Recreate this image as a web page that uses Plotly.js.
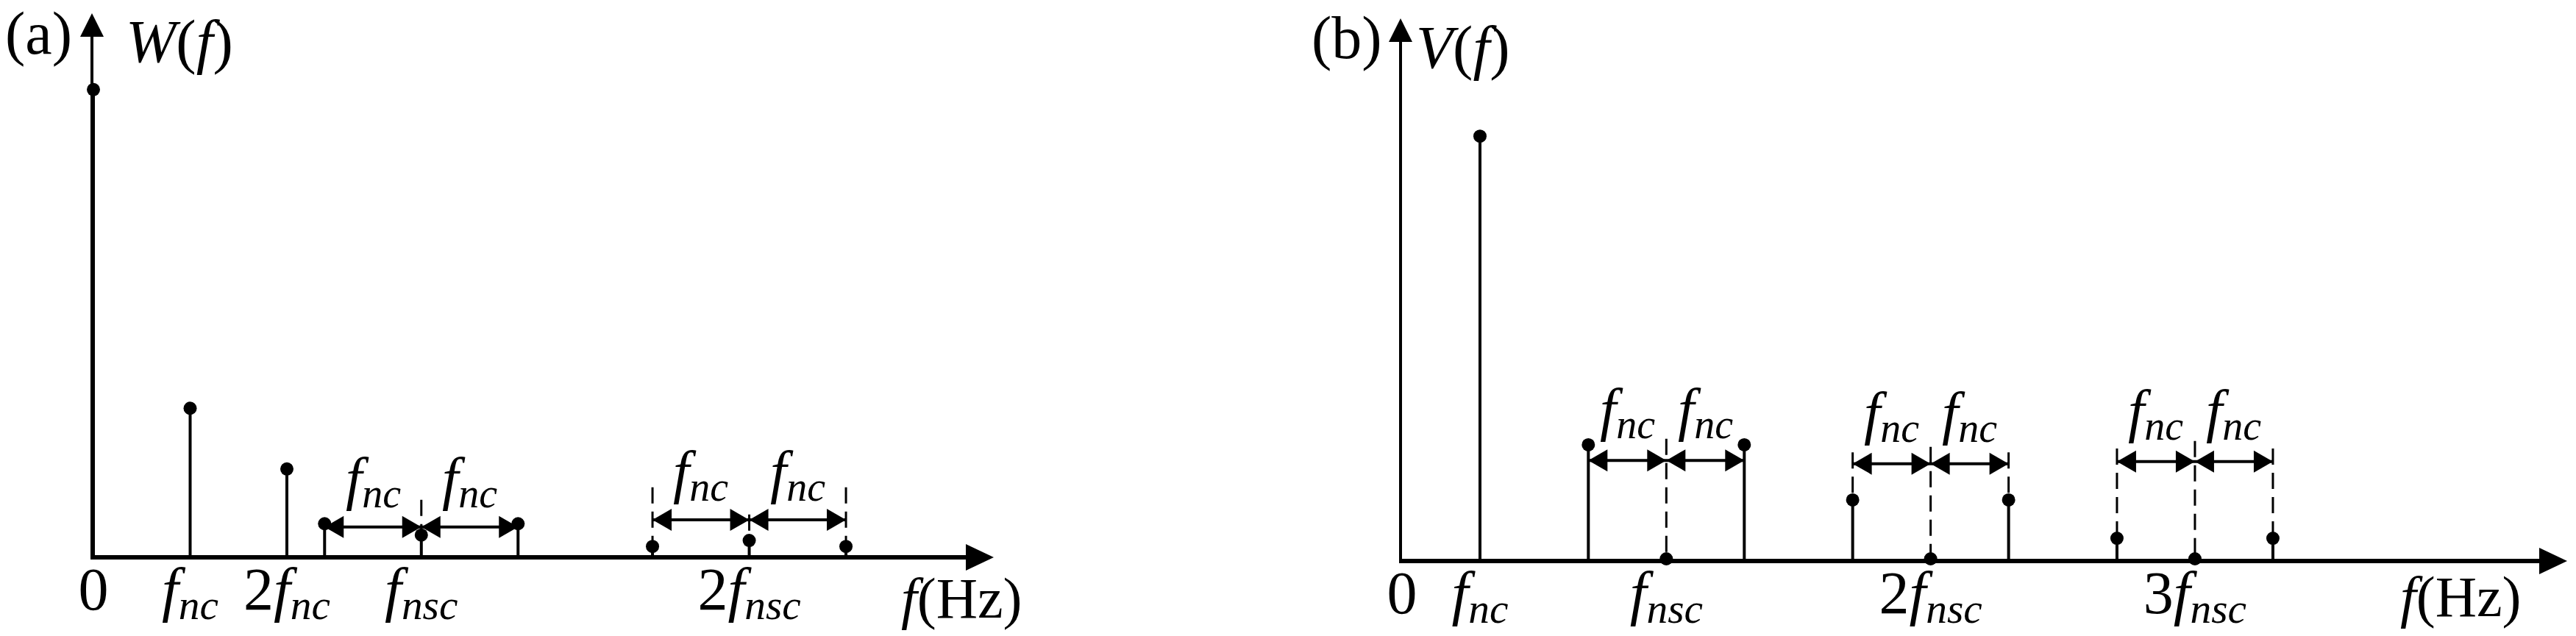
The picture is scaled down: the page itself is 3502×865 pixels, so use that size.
<!DOCTYPE html>
<html><head><meta charset="utf-8">
<script src="https://cdn.plot.ly/plotly-3.0.1.min.js"></script>
<style>html,body{margin:0;padding:0;background:#fff}#chart{width:3502px;height:865px}</style>
</head><body><div id="chart"></div>
<script>
// italic f with a lowered, smaller subscript (e.g. f_nc, f_nsc)
function fs(sub) { return '<i>f<span style="font-size:70%;baseline-shift:-0.22em">' + sub + '</span></i>'; }

// Frequencies are in units of f_nc ; f_nsc ≈ 3.39 f_nc
// ---------- Panel (a): W(f) ----------
const aFreq = [0, 1, 2, 2.39, 3.39, 4.39, 5.78, 6.78, 7.78];
const aAmp  = [85.9, 27.1, 15.9, 5.8, 3.7, 5.8, 1.6, 2.7, 1.6];
const aGroupCenter    = [3.39, 6.78];
const aArrowLevel     = [5.2, 6.5];
const aLabelLevel     = [13.6, 14.9];
const aGuideSideTop   = [null, 12.5];
const aGuideCenterTop = [10.2, 7.5];
const aTickVals = [0, 1, 2, 3.39, 6.78];
const aTickText = ['0', fs('nc'), '2' + fs('nc'), fs('nsc'), '2' + fs('nsc')];

// ---------- Panel (b): V(f) ----------
const bFreq = [1, 2.39, 3.39, 4.39, 5.78, 6.78, 7.78, 9.17, 10.17, 11.17];
const bAmp  = [78.2, 21.1, 0, 21.1, 10.9, 0, 10.9, 3.8, 0, 3.8];
const bGroupCenter    = [3.39, 6.78, 10.17];
const bArrowLevel     = [18.2, 17.6, 18.0];
const bLabelLevel     = [27.1, 26.4, 26.9];
const bGuideSideTop   = [null, 19.7, 20.4];
const bGuideCenterTop = [22.2, 20.7, 21.8];
const bTickVals = [0, 1, 3.39, 6.78, 10.17];
const bTickText = ['0', fs('nc'), fs('nsc'), '2' + fs('nsc'), '3' + fs('nsc')];

const SPACING = 1; // sideband spacing = f_nc
const FONT = "'Liberation Serif', 'Times New Roman', Times, serif";

function ampAt(freq, amp, x) {
  const i = freq.findIndex(f => Math.abs(f - x) < 1e-6);
  return i >= 0 ? amp[i] : 0;
}
function stems(freq, amp, xa, ya) {
  const x = [], y = [];
  freq.forEach((f, i) => { if (amp[i] > 0) { x.push(f, f, null); y.push(0, amp[i], null); } });
  return {type: 'scatter', mode: 'lines', x, y, xaxis: xa, yaxis: ya, cliponaxis: false,
          line: {color: '#000', width: 4}, hoverinfo: 'skip', showlegend: false};
}
function dots(freq, amp, xa, ya) {
  return {type: 'scatter', mode: 'markers', x: freq, y: amp, xaxis: xa, yaxis: ya, cliponaxis: false,
          marker: {color: '#000', size: 18, line: {width: 0}}, hoverinfo: 'skip', showlegend: false};
}
function guides(centers, sideTop, centerTop, freq, amp, xa, ya) {
  const x = [], y = [];
  centers.forEach((c, g) => {
    x.push(c, c, null); y.push(centerTop[g], ampAt(freq, amp, c), null);
    if (sideTop[g] !== null) {
      [c - SPACING, c + SPACING].forEach(s => { x.push(s, s, null); y.push(sideTop[g], ampAt(freq, amp, s), null); });
    }
  });
  return {type: 'scatter', mode: 'lines', x, y, xaxis: xa, yaxis: ya, cliponaxis: false,
          line: {color: '#000', width: 3, dash: '22px,11px'}, hoverinfo: 'skip', showlegend: false};
}
function spacingLines(centers, levels, xa, ya) {
  const x = [], y = [];
  centers.forEach((c, g) => { x.push(c - SPACING, c + SPACING, null); y.push(levels[g], levels[g], null); });
  return {type: 'scatter', mode: 'lines', x, y, xaxis: xa, yaxis: ya, cliponaxis: false,
          line: {color: '#000', width: 4}, hoverinfo: 'skip', showlegend: false};
}
// arrowhead geometry in pixels (tip at anchor)
const HEAD_R = 'M0,0 L-26,15 L-26,-15 Z';
const HEAD_L = 'M0,0 L26,15 L26,-15 Z';
function head(xref, yref, x, y, path) {
  return {type: 'path', xref, yref, xsizemode: 'pixel', ysizemode: 'pixel', xanchor: x, yanchor: y,
          path, fillcolor: '#000', line: {width: 0}, layer: 'above'};
}
function spacingHeads(centers, levels, xref, yref) {
  const out = [];
  centers.forEach((c, g) => {
    out.push(head(xref, yref, c - SPACING, levels[g], HEAD_L));
    out.push(head(xref, yref, c, levels[g], HEAD_R));
    out.push(head(xref, yref, c, levels[g], HEAD_L));
    out.push(head(xref, yref, c + SPACING, levels[g], HEAD_R));
  });
  return out;
}
function spacingLabels(centers, labels, xref, yref) {
  const out = [];
  centers.forEach((c, g) => {
    [c - SPACING / 2, c + SPACING / 2].forEach(xm => {
      out.push({xref, yref, x: xm, y: labels[g], text: fs('nc'),
        showarrow: false, xanchor: 'center', yanchor: 'middle', font: {family: FONT, size: 80, color: '#000'}});
    });
  });
  return out;
}
// axis arrowheads, anchored to the axis domain ends (not clipped)
function axisHeads(xa, ya) {
  return [
    head(xa + ' domain', ya + ' domain', 1, 0, 'M10,-3 L-28,15 L-28,-21 Z'),
    head(xa + ' domain', ya + ' domain', 0, 1, 'M-2,8 L-18,-24 L14,-24 Z')
  ];
}

const aXEnd = 9.232, bXEnd = 14.85, yEnd = 98.9;

const traces = [
  stems(aFreq, aAmp, 'x', 'y'), guides(aGroupCenter, aGuideSideTop, aGuideCenterTop, aFreq, aAmp, 'x', 'y'),
  spacingLines(aGroupCenter, aArrowLevel, 'x', 'y'), dots(aFreq, aAmp, 'x', 'y'),
  stems(bFreq, bAmp, 'x2', 'y2'), guides(bGroupCenter, bGuideSideTop, bGuideCenterTop, bFreq, bAmp, 'x2', 'y2'),
  spacingLines(bGroupCenter, bArrowLevel, 'x2', 'y2'), dots(bFreq, bAmp, 'x2', 'y2')
];

const tickFont = {family: FONT, size: 82, color: '#000'};
function xAxis(domain, range, vals, text, anchor) {
  return {domain, range, anchor, showline: true, linewidth: 6, linecolor: '#000', showgrid: false, zeroline: false,
          ticks: '', tickvals: vals, ticktext: text, tickfont: tickFont, ticklabelstandoff: -30, fixedrange: true};
}
function yAxis(domain, anchor) {
  return {domain, range: [0, yEnd], anchor, showline: true, linewidth: 4, linecolor: '#000', showgrid: false,
          zeroline: false, ticks: '', showticklabels: false, fixedrange: true};
}

const textFont = {family: FONT, size: 82, color: '#000'};
const hzFont = {family: FONT, size: 78, color: '#000'};
const annotations = [].concat(
  spacingLabels(aGroupCenter, aLabelLevel, 'x', 'y'),
  spacingLabels(bGroupCenter, bLabelLevel, 'x2', 'y2'),
  [
    {xref: 'paper', yref: 'paper', x: 0.01485, y: 0.947, text: '(a)', showarrow: false, xanchor: 'center', yanchor: 'middle', font: textFont},
    {xref: 'paper', yref: 'paper', x: 0.0697, y: 0.935, text: '<i>W</i>(<i>f</i>)', showarrow: false, xanchor: 'center', yanchor: 'middle', font: textFont},
    {xref: 'paper', yref: 'paper', x: 0.5228, y: 0.941, text: '(b)', showarrow: false, xanchor: 'center', yanchor: 'middle', font: textFont},
    {xref: 'paper', yref: 'paper', x: 0.5680, y: 0.926, text: '<i>V</i>(<i>f</i>)', showarrow: false, xanchor: 'center', yanchor: 'middle', font: textFont},
    {xref: 'paper', yref: 'paper', x: 0.3735, y: 0.059, text: '<i>f</i>(Hz)', showarrow: false, xanchor: 'center', yanchor: 'middle', font: hzFont},
    {xref: 'paper', yref: 'paper', x: 0.9552, y: 0.0613, text: '<i>f</i>(Hz)', showarrow: false, xanchor: 'center', yanchor: 'middle', font: hzFont}
  ]
);

const shapes = [].concat(
  spacingHeads(aGroupCenter, aArrowLevel, 'x', 'y'),
  spacingHeads(bGroupCenter, bArrowLevel, 'x2', 'y2'),
  axisHeads('x', 'y'),
  axisHeads('x2', 'y2')
);

const layout = {
  width: 3502, height: 865, margin: {l: 0, r: 0, t: 0, b: 0},
  paper_bgcolor: '#fff', plot_bgcolor: 'rgba(0,0,0,0)', showlegend: false,
  xaxis:  xAxis([0.036265, 0.382924], [0, aXEnd], aTickVals, aTickText, 'y'),
  yaxis:  yAxis([0.127168, 0.969942], 'x'),
  xaxis2: xAxis([0.544260, 0.993718], [0, bXEnd], bTickVals, bTickText, 'y2'),
  yaxis2: yAxis([0.121387, 0.961850], 'x2'),
  annotations, shapes
};

Plotly.newPlot('chart', traces, layout, {staticPlot: true, displayModeBar: false});
</script>
</body></html>
